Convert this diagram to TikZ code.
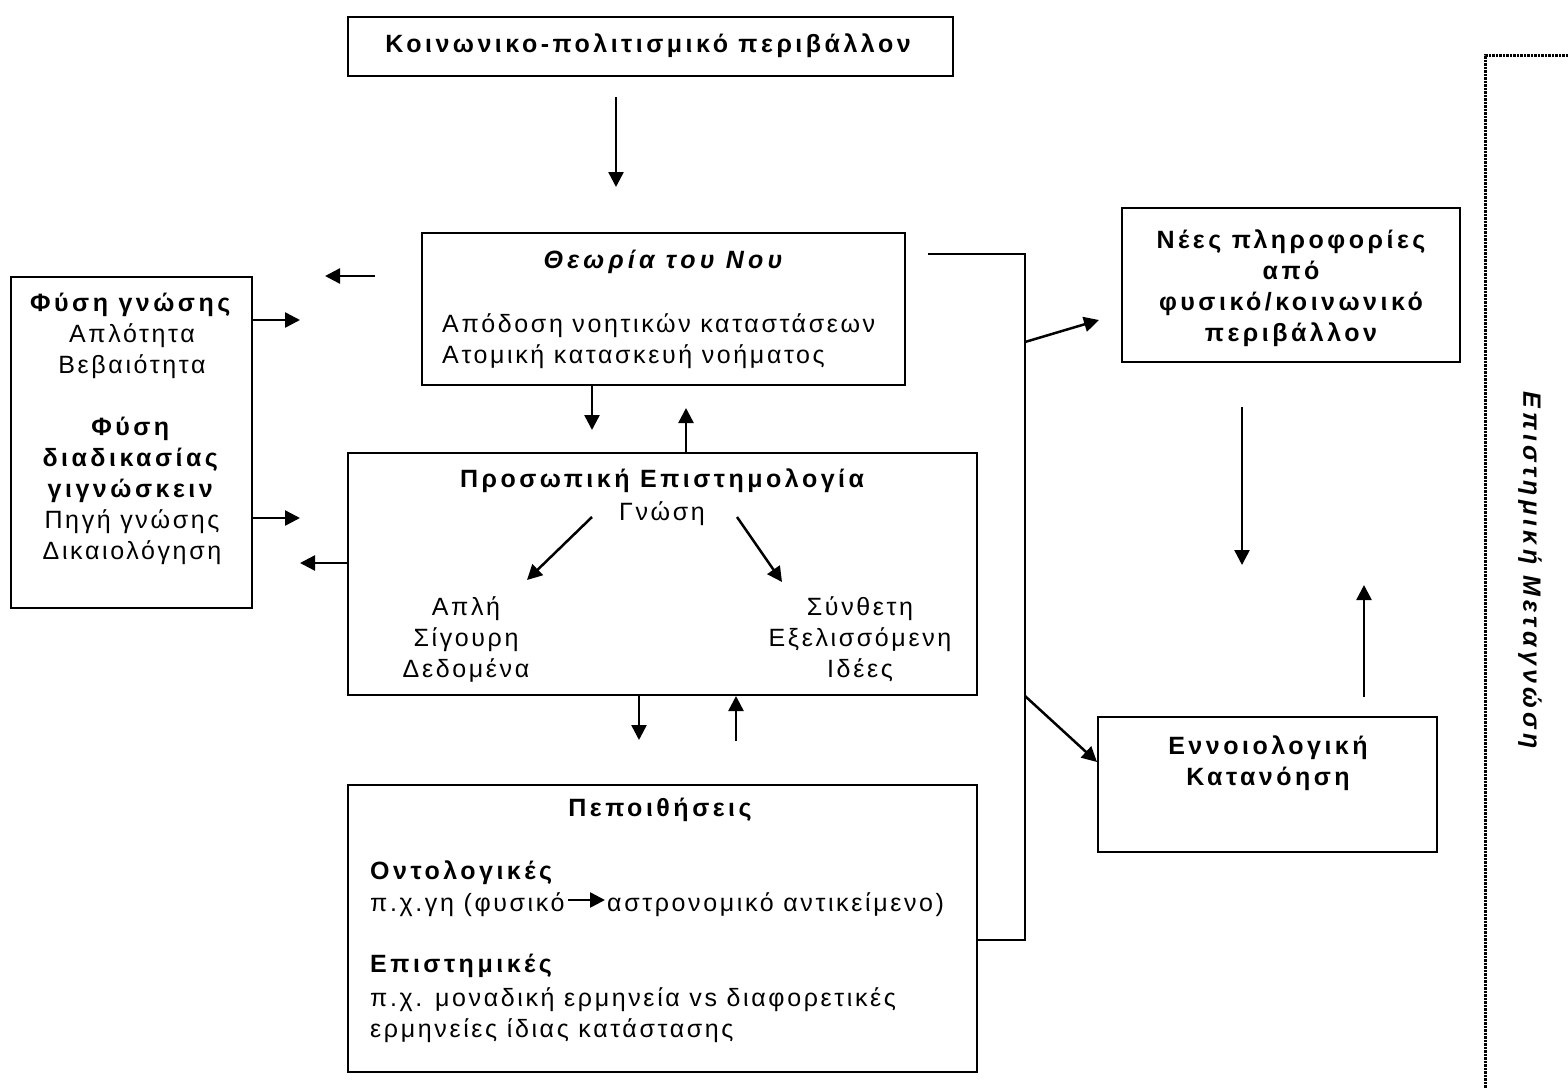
\documentclass[tikz,border=0pt]{standalone}
\usepackage{fontspec}
\setmainfont{Liberation Sans}[LetterSpace=10.5, BoldFeatures={LetterSpace=14}, BoldItalicFeatures={LetterSpace=17}]
\usetikzlibrary{arrows.meta}

\newcommand\diagfont{\fontsize{25}{31}\selectfont}

\tikzset{
  box/.style={draw, line width=2pt, inner sep=0pt},
  arr/.style={-{Triangle[length=15pt,width=15pt]}, line width=2.5pt},
  link/.style={line width=2pt},
  txt/.style={inner sep=0pt, align=center, font=\diagfont},
  btxt/.style={txt, font=\diagfont\bfseries},
  dotline/.style={line width=3pt, dash pattern=on 2.5pt off 1pt},
}

\begin{document}
\begin{tikzpicture}[x=1pt, y=-1pt]
\useasboundingbox (0,0) rectangle (1568,1090);

% boxes
\node[box, minimum width=605pt, minimum height=59pt] (socio) at (650.5,46.5) {};
\node[box, minimum width=483pt, minimum height=152pt] (tom) at (663.5,309) {};
\node[box, minimum width=241pt, minimum height=331pt] (know) at (131.5,442.5) {};
\node[box, minimum width=629pt, minimum height=242pt] (pers) at (662.5,574) {};
\node[box, minimum width=629pt, minimum height=287pt] (belief) at (662.5,928.5) {};
\node[box, minimum width=338pt, minimum height=154pt] (newinfo) at (1291,285) {};
\node[box, minimum width=339pt, minimum height=135pt] (concept) at (1267.5,784.5) {};

% texts
\node[btxt] (sociot) at (648,46) {Κοινωνικο-πολιτισμικό περιβάλλον};
\node[txt, font=\diagfont\bfseries\itshape] (tomt) at (663,262) {Θεωρία του Νου};
\node[txt, align=left, anchor=west] (tomd) at (442,341)
{Απόδοση νοητικών καταστάσεων\\Ατομική κατασκευή νοήματος};
\node[txt] (knowt) at (132,429)
{\textbf{Φύση γνώσης}\\Απλότητα\\Βεβαιότητα\\[31pt]\textbf{Φύση}\\\textbf{διαδικασίας}\\\textbf{γιγνώσκειν}\\Πηγή γνώσης\\Δικαιολόγηση};
\node[btxt] (perst) at (662,481) {Προσωπική Επιστημολογία};
\node[txt] (gnosi) at (662,514) {Γνώση};
\node[txt] (simple) at (466,639) {Απλή\\Σίγουρη\\Δεδομένα};
\node[txt] (complex) at (860,639) {Σύνθετη\\Εξελισσόμενη\\Ιδέες};
\node[btxt] (beliefst) at (660,810) {Πεποιθήσεις};
\node[btxt, anchor=west] (ontot) at (370,873) {Οντολογικές};
\node[txt, anchor=west] (ontoa) at (370,905) {π.χ.γη (φυσικό};
\node[txt, anchor=west] (ontob) at (607,905) {αστρονομικό αντικείμενο)};
\node[btxt, anchor=west] (epit) at (370,966) {Επιστημικές};
\node[txt, align=left, anchor=west] (epid) at (370,1015)
{π.χ. μοναδική ερμηνεία vs διαφορετικές\\ερμηνείες ίδιας κατάστασης};
\node[btxt] (newt) at (1291,288)
{Νέες πληροφορίες\\από\\φυσικό/κοινωνικό\\περιβάλλον};
\node[btxt] (conct) at (1268,763) {Εννοιολογική\\Κατανόηση};
\node[txt, font=\diagfont\bfseries\itshape, rotate=-90] (meta) at (1530,570) {Επιστημική Μεταγνώση};

% arrow ends
\coordinate (a1s) at (616,97);   \coordinate (a1e) at (616,187);
\coordinate (a2s) at (375,276);  \coordinate (a2e) at (325,276);
\coordinate (a3) at (300,320);
\coordinate (a4) at (300,518);
\coordinate (a5) at (300,563);
\coordinate (a6) at (592,430);
\coordinate (a7) at (686,408);
\coordinate (a8) at (639,740);
\coordinate (a9) at (736,741);
\coordinate (k1s) at (592,517);  \coordinate (k1e) at (527,580);
\coordinate (k2s) at (737,517);  \coordinate (k2e) at (782,582);
\coordinate (b1) at (928,254);
\coordinate (bus) at (1025,940);
\coordinate (a11s) at (1025,342); \coordinate (a11e) at (1099,320);
\coordinate (a12s) at (1025,696); \coordinate (a12e) at (1098,762);
\coordinate (a13s) at (1242,407); \coordinate (a13e) at (1242,565);
\coordinate (a14s) at (1364,697); \coordinate (a14e) at (1364,585);

% arrows
\draw[arr] (a1s) -- (a1e);
\draw[arr] (a2s) -- (a2e);
\draw[arr] (know.east |- a3) -- (a3);
\draw[arr] (know.east |- a4) -- (a4);
\draw[arr] (pers.west |- a5) -- (a5);
\draw[arr] (tom.south -| a6) -- (a6);
\draw[arr] (pers.north -| a7) -- (a7);
\draw[arr] (pers.south -| a8) -- (a8);
\draw[arr] (a9) -- (pers.south -| a9);
\draw[arr] (k1s) -- (k1e);
\draw[arr] (k2s) -- (k2e);
\draw[arr] ([xshift=3pt,yshift=5pt]ontoa.east) -- ([xshift=-2pt,yshift=5pt]ontob.west);

% bus line
\draw[link] (b1) -| (bus) -- (belief.east |- bus);
\draw[arr] (a11s) -- (a11e);
\draw[arr] (a12s) -- (concept.west |- a12e);
\draw[arr] (a13s) -- (a13e);
\draw[arr] (a14s) -- (a14e);

% metacognition
\draw[dotline] (1568,55) -| (1485,1088);

\end{tikzpicture}
\end{document}
